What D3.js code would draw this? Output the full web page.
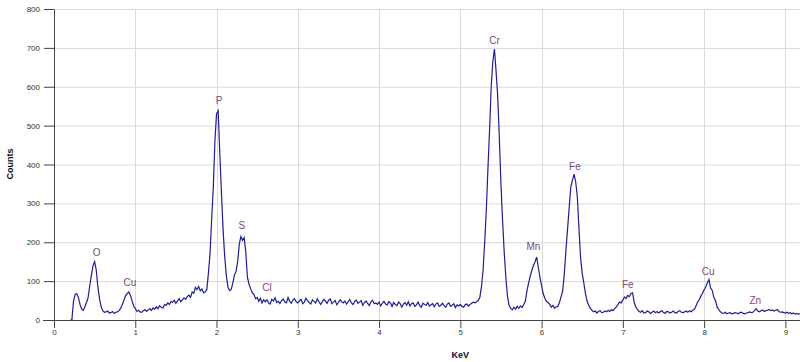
<!DOCTYPE html>
<html>
<head>
<meta charset="utf-8">
<script src="https://cdn.jsdelivr.net/npm/d3@7"></script>
<style>
  body { margin: 0; background: #fff; }
  .tick text { font-family: "Liberation Sans", Arial, sans-serif; font-size: 8px; fill: #333; }
  .axisTitle { font-family: "Liberation Sans", Arial, sans-serif; font-size: 9px; font-weight: bold; fill: #111; }
  .peakLabel { font-family: "Liberation Sans", Arial, sans-serif; font-size: 10px; fill: #7a4a78; }
</style>
</head>
<body>
<div id="chart"></div>
<script>
// spectrum channels: first channel energy and channel width (keV)
var channelStart = 0.20;
var channelStep = 0.02;

// counts per channel, one row = 0.2 keV (row start keV in comment)
var counts = [
  0, 0, 48, 66, 68, 58, 40, 28, 25, 34,            // 0.20
  45, 58, 88, 115, 140, 150, 128, 85, 55, 34,      // 0.40
  24, 20, 21, 23, 18, 19, 22, 17, 20, 21,          // 0.60
  24, 30, 40, 50, 62, 68, 72, 64, 50, 36,          // 0.80
  30, 22, 25, 21, 20, 24, 27, 22, 26, 29,          // 1.00
  25, 31, 28, 34, 29, 37, 33, 31, 40, 38,          // 1.20
  44, 40, 48, 45, 51, 43, 49, 55, 47, 52,          // 1.40
  57, 53, 60, 64, 58, 72, 69, 84, 78, 86,          // 1.60
  75, 80, 70, 72, 78, 120, 170, 260, 340, 460,     // 1.80
  530, 538, 430, 330, 235, 165, 115, 85, 76, 78,   // 2.00
  95, 115, 125, 150, 195, 215, 205, 212, 175, 110, // 2.20
  92, 80, 70, 66, 55, 58, 48, 56, 44, 52,          // 2.40
  47, 52, 44, 41, 53, 49, 57, 45, 48, 42,          // 2.60
  50, 54, 46, 44, 58, 48, 43, 51, 55, 47,          // 2.80
  44, 49, 53, 42, 46, 56, 50, 45, 41, 52,          // 3.00
  48, 44, 55, 47, 40, 46, 53, 49, 43, 51,          // 3.20
  54, 42, 46, 50, 39, 45, 52, 47, 44, 49,          // 3.40
  41, 47, 53, 44, 40, 48, 51, 43, 46, 50,          // 3.60
  38, 45, 49, 43, 37, 47, 51, 42, 44, 40,          // 3.80
  46, 36, 43, 48, 41, 39, 47, 44, 35, 45,          // 4.00
  40, 37, 46, 42, 33, 41, 45, 38, 47, 36,          // 4.20
  42, 44, 35, 39, 46, 37, 33, 43, 40, 38,          // 4.40
  45, 36, 39, 42, 34, 41, 44, 35, 38, 43,          // 4.60
  37, 33, 41, 44, 35, 38, 42, 32, 39, 36,          // 4.80
  40, 35, 33, 39, 41, 36, 40, 43, 46, 44,          // 5.00
  47, 50, 58, 85, 128, 200, 283, 390, 489, 600,    // 5.20
  665, 697, 640, 575, 470, 350, 255, 175, 110, 62, // 5.40
  38, 30, 26, 33, 28, 35, 30, 36, 32, 40,          // 5.60
  48, 75, 95, 112, 128, 140, 150, 162, 135, 110,   // 5.80
  88, 68, 56, 48, 45, 40, 33, 38, 30, 34,          // 6.00
  35, 45, 60, 75, 120, 180, 235, 290, 343, 360,    // 6.20
  375, 355, 317, 235, 160, 120, 95, 68, 48, 38,    // 6.40
  30, 25, 21, 23, 18, 22, 24, 19, 20, 23,          // 6.60
  21, 25, 22, 27, 24, 29, 34, 40, 46, 44,          // 6.80
  52, 59, 55, 63, 60, 68, 70, 45, 33, 27,          // 7.00
  22, 20, 24, 18, 19, 23, 21, 17, 20, 23,          // 7.20
  19, 22, 18, 21, 24, 19, 17, 22, 21, 18,          // 7.40
  20, 23, 19, 18, 22, 24, 20, 19, 21, 23,          // 7.60
  20, 24, 21, 25, 27, 36, 46, 52, 62, 68,          // 7.80
  78, 85, 96, 104, 82, 76, 58, 50, 33, 27,         // 8.00
  21, 18, 17, 20, 16, 18, 19, 16, 17, 19,          // 8.20
  18, 16, 19, 20, 17, 16, 18, 19, 21, 19,          // 8.40
  20, 24, 29, 23, 21, 24, 26, 22, 24, 25,          // 8.60
  27, 24, 26, 23, 25, 27, 22, 20, 21, 19,          // 8.80
  18, 20, 17, 19, 16, 18, 15, 17, 15, 16           // 9.00
];

// peak labels (element, keV, counts where the label sits)
var peakNames = ["O", "Cu", "P", "S", "Cl", "Cr", "Mn", "Fe", "Fe", "Cu", "Zn"];
var peakKeV = [0.525, 0.935, 2.03, 2.31, 2.62, 5.42, 5.90, 6.41, 7.06, 8.05, 8.63];
var peakLabelCounts = [174, 97, 564, 242, 84, 719, 188, 396, 92, 125, 51];

var xTicks = [0, 1, 2, 3, 4, 5, 6, 7, 8, 9];
var yTicks = [0, 100, 200, 300, 400, 500, 600, 700, 800];

var svgWidth = 800;
var svgHeight = 362;

var margin = { top: 9, right: 0, bottom: 42, left: 54 };
var width = svgWidth - margin.left - margin.right;
var height = svgHeight - margin.top - margin.bottom;

var spectrum = counts.map(function (c, i) {
  return { kev: channelStart + i * channelStep, counts: c };
});

var svg = d3.select("#chart")
  .append("svg")
  .attr("width", svgWidth)
  .attr("height", svgHeight);

var chartGroup = svg.append("g")
  .attr("transform", `translate(${margin.left}, ${margin.top})`);

var xScale = d3.scaleLinear()
  .domain([0, 9.18])
  .range([0, width]);

var yScale = d3.scaleLinear()
  .domain([0, 800])
  .range([height, 0]);

// gridlines
chartGroup.append("g")
  .selectAll("line.hgrid")
  .data(yTicks)
  .enter()
  .append("line")
  .attr("x1", 0)
  .attr("x2", width)
  .attr("y1", d => yScale(d) + 0.5)
  .attr("y2", d => yScale(d) + 0.5)
  .attr("stroke", "#d9d9d9")
  .attr("stroke-width", 1);

chartGroup.append("g")
  .selectAll("line.vgrid")
  .data(xTicks.slice(1))
  .enter()
  .append("line")
  .attr("x1", d => Math.round(xScale(d)) + 0.5)
  .attr("x2", d => Math.round(xScale(d)) + 0.5)
  .attr("y1", 0)
  .attr("y2", height)
  .attr("stroke", "#d9d9d9")
  .attr("stroke-width", 1);

// spectrum line
var line = d3.line()
  .x(d => xScale(d.kev))
  .y(d => yScale(d.counts));

chartGroup.append("path")
  .datum(spectrum)
  .attr("fill", "none")
  .attr("stroke", "#1f1f8f")
  .attr("stroke-width", 1.2)
  .attr("d", line);

// axes
var bottomAxis = d3.axisBottom(xScale)
  .tickValues(xTicks)
  .tickSize(8)
  .tickSizeOuter(0)
  .tickFormat(d3.format("d"));

var leftAxis = d3.axisLeft(yScale)
  .tickValues(yTicks)
  .tickSize(10)
  .tickSizeOuter(0)
  .tickPadding(4);

var xAxis = chartGroup.append("g")
  .attr("transform", `translate(0, ${height})`)
  .call(bottomAxis);

var yAxis = chartGroup.append("g")
  .call(leftAxis);

xAxis.select(".domain").attr("stroke", "#444").attr("d", `M-11,0.5H${width}`);
yAxis.select(".domain").attr("stroke", "#444");
xAxis.selectAll(".tick line").attr("stroke", "#444");
yAxis.selectAll(".tick line").attr("stroke", "#444");
xAxis.selectAll(".tick text").attr("dy", "0.55em");

// axis titles
chartGroup.append("text")
  .attr("class", "axisTitle")
  .attr("text-anchor", "middle")
  .attr("x", xScale(5))
  .attr("y", height + 38)
  .text("KeV");

chartGroup.append("text")
  .attr("class", "axisTitle")
  .attr("text-anchor", "middle")
  .attr("transform", "rotate(-90)")
  .attr("x", -155)
  .attr("y", -41)
  .text("Counts");

// element labels
chartGroup.selectAll("text.peakLabel")
  .data(peakNames)
  .enter()
  .append("text")
  .attr("class", "peakLabel")
  .attr("text-anchor", "middle")
  .attr("dominant-baseline", "central")
  .attr("x", (d, i) => xScale(peakKeV[i]))
  .attr("y", (d, i) => yScale(peakLabelCounts[i]))
  .text(d => d);
</script>
</body>
</html>
